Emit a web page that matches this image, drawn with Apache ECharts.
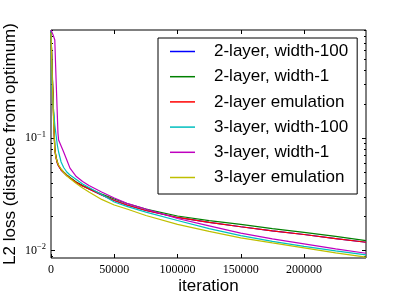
<!DOCTYPE html>
<html><head><meta charset="utf-8">
<script src="https://cdn.jsdelivr.net/npm/echarts@6/dist/echarts.min.js"></script>
<style>html,body{margin:0;padding:0;background:#fff}#c{width:407px;height:296px}</style>
</head><body><div id="c"></div>
<script>
const iterations = [0,1000,2000,3000,4000,5000,5500,6000,8000,10000,12500,15000,20000,25000,30000,40000,50000,60000,75000,100000,125000,150000,175000,200000,225000,249000];
const twoLayerWidth100 = [0.87,0.362,0.160,0.0782,0.0665,0.0600,0.0582,0.0564,0.0520,0.0494,0.0465,0.0442,0.0403,0.0375,0.0353,0.0312,0.0279,0.0254,0.0227,0.0197,0.0178,0.0163,0.0150,0.0139,0.0128,0.01187];
const twoLayerWidth1 = [0.88,0.385,0.170,0.0815,0.0678,0.0612,0.0588,0.0570,0.0525,0.0499,0.0469,0.0446,0.0407,0.0379,0.0356,0.0318,0.0287,0.0262,0.0234,0.0203,0.0185,0.0171,0.0157,0.0145,0.0134,0.01227];
const twoLayerEmulation = [0.87,0.362,0.160,0.0782,0.0665,0.0600,0.0582,0.0564,0.0520,0.0494,0.0465,0.0442,0.0403,0.0375,0.0353,0.0312,0.0279,0.0254,0.0227,0.0197,0.0178,0.0163,0.0150,0.0139,0.0128,0.01187];
const threeLayerWidth100 = [0.89,0.2667,0.1772,0.1304,0.1063,0.0867,0.0807,0.0751,0.0612,0.0547,0.0499,0.0469,0.0428,0.0391,0.0364,0.0315,0.0270,0.0247,0.0220,0.0185,0.0157,0.0136,0.01207,0.0109,0.00994,0.00916];
const threeLayerWidth1 = [0.91,0.854,0.804,0.741,0.3365,0.160,0.1108,0.096,0.0849,0.0751,0.0638,0.0540,0.0455,0.0411,0.0379,0.0332,0.0293,0.0263,0.0234,0.0193,0.0166,0.0143,0.0127,0.01147,0.01035,0.00948];
const threeLayerEmulation = [0.86,0.327,0.1445,0.0782,0.0665,0.0612,0.0594,0.0576,0.0531,0.0494,0.0460,0.0437,0.0395,0.0360,0.0332,0.0285,0.0254,0.0234,0.0205,0.0171,0.0148,0.0130,0.0117,0.01057,0.00954,0.00874];

const seriesNames = ['2-layer, width-100','2-layer, width-1','2-layer emulation','3-layer, width-100','3-layer, width-1','3-layer emulation'];
const seriesValues = [twoLayerWidth100,twoLayerWidth1,twoLayerEmulation,threeLayerWidth100,threeLayerWidth1,threeLayerEmulation];
const seriesColors = ['#0000ff','#008000','#ff0000','#00bfbf','#bf00bf','#bfbf00'];

const xTicks = [0,50000,100000,150000,200000];
const yMajorTicks = [0.01,0.1];
const yMajorExp = ['\u22122','\u22121'];
const yMinorTicks = [0.009,0.02,0.03,0.04,0.05,0.06,0.07,0.08,0.09,0.2,0.3,0.4,0.5,0.6,0.7,0.8,0.9];

const X_MIN = 0, X_MAX = 249000, Y_MIN = 0.0086, Y_MAX = 0.91;
const serif = 'Liberation Serif';
const sans = 'Liberation Sans';

function yAxisDef(pos, ticks, len, labels) {
  const ax = {
    type:'log', logBase:10, min:Y_MIN, max:Y_MAX, position:pos,
    axisLine:{show:false}, splitLine:{show:false}, minorTick:{show:false},
    axisTick:{show:true, inside:true, length:len, customValues:ticks, lineStyle:{color:'#000', width:1}},
    axisLabel:{show:false}
  };
  if (labels) {
    ax.axisLabel = {
      show:true, customValues:yMajorTicks, margin:5,
      formatter:function(v){ const i = yMajorTicks.findIndex(t=>Math.abs(t-v)/t<1e-6); return i<0?'':'{b|10}{s|'+yMajorExp[i]+'}'; },
      rich:{ b:{fontFamily:serif,fontSize:12,color:'#000'}, s:{fontFamily:serif,fontSize:8.5,color:'#000',padding:[0,0,7,0]} }
    };
    ax.name = 'L2 loss (distance from optimum)';
    ax.nameLocation = 'middle';
    ax.nameGap = 32;
    ax.nameMoveOverlap = false;
    ax.nameTextStyle = {fontFamily:sans,fontSize:17,color:'#000'};
  }
  return ax;
}

const chart = echarts.init(document.getElementById('c'), null, {renderer:'canvas'});
chart.setOption({
  animation:false,
  backgroundColor:'#fff',
  grid:{left:51, right:41, top:30, bottom:38, outerBoundsMode:'none', containLabel:false, show:true, borderColor:'#000', borderWidth:1, backgroundColor:'transparent'},
  legend:{
    show:true, orient:'vertical', left:158, top:38,
    data:seriesNames,
    icon:'rect',
    backgroundColor:'#fff', borderColor:'#000', borderWidth:1, borderRadius:0,
    padding:[5,9,8,12], itemGap:8.2, itemWidth:25, itemHeight:1.5,
    textStyle:{fontFamily:sans, fontSize:17, color:'#000', padding:[0,0,0,14], lineHeight:17}
  },
  xAxis:[
    {type:'value', min:X_MIN, max:X_MAX, position:'bottom',
     axisLine:{show:false}, splitLine:{show:false},
     axisTick:{show:true, inside:true, length:4, customValues:xTicks, lineStyle:{color:'#000'}},
     axisLabel:{show:true, customValues:xTicks, margin:6, fontFamily:serif, fontSize:12, color:'#000', formatter:v=>String(v)},
     name:'iteration', nameLocation:'middle', nameGap:20, nameMoveOverlap:false, nameTextStyle:{fontFamily:sans,fontSize:17,color:'#000'}},
    {type:'value', min:X_MIN, max:X_MAX, position:'top',
     axisLine:{show:false}, splitLine:{show:false},
     axisTick:{show:true, inside:true, length:4, customValues:xTicks, lineStyle:{color:'#000'}},
     axisLabel:{show:false}}
  ],
  yAxis:[
    yAxisDef('left', yMajorTicks, 4, true),
    yAxisDef('left', yMinorTicks, 2, false),
    yAxisDef('right', yMajorTicks, 4, false),
    yAxisDef('right', yMinorTicks, 2, false)
  ],
  series: seriesNames.map((name,k)=>({
    name:name, type:'line', xAxisIndex:0, yAxisIndex:0,
    data: iterations.map((it,i)=>[it, seriesValues[k][i]]),
    symbol:'none', showSymbol:false, smooth:false,
    lineStyle:{color:seriesColors[k], width:1.2},
    itemStyle:{color:seriesColors[k]},
    clip:true
  }))
});
</script>
</body></html>
